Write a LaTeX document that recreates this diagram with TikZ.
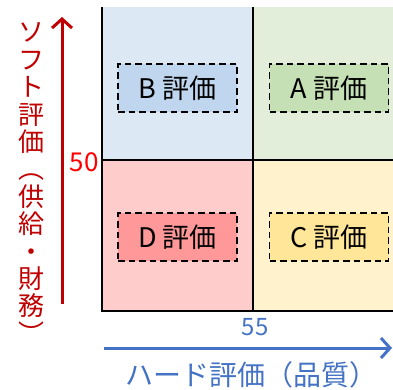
\documentclass[tikz,border=0pt]{standalone}
\usepackage{fontspec}
\setmainfont{Noto Sans CJK JP}
\usetikzlibrary{arrows.meta}
\definecolor{qTL}{HTML}{DDE8F5}
\definecolor{qTR}{HTML}{E2EEDA}
\definecolor{qBL}{HTML}{FFCCCC}
\definecolor{qBR}{HTML}{FFF2CC}
\definecolor{bB}{HTML}{BFD6EE}
\definecolor{bA}{HTML}{C5E0B4}
\definecolor{bD}{HTML}{FF9999}
\definecolor{bC}{HTML}{FFE699}
\definecolor{dred}{HTML}{C00000}
\definecolor{axblue}{HTML}{4472C4}
\tikzset{
  quad/.style={draw=none, inner sep=0pt, outer sep=0pt, anchor=north west},
  gradebox/.style={draw=black, dash pattern=on 6.5pt off 4pt, line width=1.8pt,
    minimum width=119pt, minimum height=48pt, inner sep=0pt,
    font=\fontsize{27}{27}\selectfont},
  gridline/.style={line width=2pt, black},
  axarrow/.style={line width=3pt, -{Straight Barb[length=9pt,width=20pt,line width=3pt]}},
}
\begin{document}
\begin{tikzpicture}[x=1pt,y=-1pt]
\useasboundingbox (0,0) rectangle (393,389);
% quadrants
\node[quad, fill=qTL, minimum width=151pt, minimum height=153pt] (qtl) at (102,7) {};
\node[quad, fill=qTR, minimum width=140pt, minimum height=153pt] (qtr) at (253,7) {};
\node[quad, fill=qBL, minimum width=151pt, minimum height=151pt] (qbl) at (102,160) {};
\node[quad, fill=qBR, minimum width=140pt, minimum height=151pt] (qbr) at (253,160) {};
% grid lines
\coordinate (lt) at (102,7);
\coordinate (lb) at (102,311);
\coordinate (rb) at (393,311);
\coordinate (mt) at (253,7);
\coordinate (mb) at (253,311);
\coordinate (hl) at (102,160);
\coordinate (hr) at (393,160);
\draw[gridline] (lt) -- (lb) -- (rb);
\draw[gridline] (mt) -- (mb);
\draw[gridline] (hl) -- (hr);
% grade boxes
\node[gradebox, fill=bB] (B) at (177.5,88) {B 評価};
\node[gradebox, fill=bA] (A) at (329,88) {A 評価};
\node[gradebox, fill=bD] (D) at (177.5,237) {D 評価};
\node[gradebox, fill=bC] (C) at (329,237) {C 評価};
% vertical axis
\coordinate (ys) at (62,304);
\coordinate (ye) at (62,17);
\draw[axarrow, dred] (ys) -- (ye);
\node[text=dred, align=center, inner sep=0pt,
  font=\fontsize{26}{27.4}\selectfont] (ylab) at (31,183)
  {ソ\\フ\\ト\\評\\価\\︵\\供\\給\\・\\財\\務\\︶};
\node[text=red, inner sep=0pt, font=\fontsize{26}{26}\selectfont] (y50) at (84,162) {50};
% horizontal axis
\coordinate (xs) at (104,348);
\coordinate (xe) at (392,348);
\draw[axarrow, axblue] (xs) -- (xe);
\node[text=axblue, inner sep=0pt, font=\fontsize{24}{24}\selectfont] (x55) at (255,327) {55};
\node[text=axblue, inner sep=0pt, font=\fontsize{28}{28}\selectfont] (xlab) at (251,375) {ハード評価（品質）};
\end{tikzpicture}
\end{document}
